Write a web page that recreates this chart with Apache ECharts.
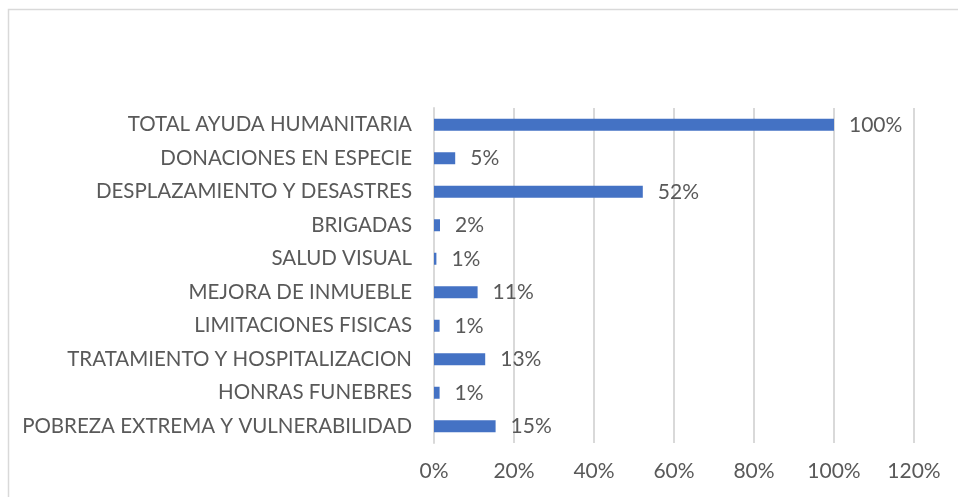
<!DOCTYPE html>
<html>
<head>
<meta charset="utf-8">
<script src="https://cdn.jsdelivr.net/npm/echarts@6/dist/echarts.min.js"></script>
<style>html,body{margin:0;padding:0;background:#fff}#c{width:958px;height:497px}</style>
</head>
<body>
<div id="c"></div>
<script>
const categories = [
  "POBREZA EXTREMA Y VULNERABILIDAD",
  "HONRAS FUNEBRES",
  "TRATAMIENTO Y HOSPITALIZACION",
  "LIMITACIONES FISICAS",
  "MEJORA DE INMUEBLE",
  "SALUD VISUAL",
  "BRIGADAS",
  "DESPLAZAMIENTO Y DESASTRES",
  "DONACIONES EN ESPECIE",
  "TOTAL AYUDA HUMANITARIA"
];
const values = [15.4, 1.4, 12.8, 1.4, 10.9, 0.6, 1.5, 52.2, 5.3, 100];
const xTicks = [0, 20, 40, 60, 80, 100, 120];

const font = 'Lato, "Open Sans", sans-serif';
const chart = echarts.init(document.getElementById('c'), null, {renderer: 'canvas'});
chart.setOption({
  animation: false,
  backgroundColor: '#fff',
  graphic: [{
    type: 'rect',
    shape: {x: 8.5, y: 9.5, width: 1000, height: 600},
    style: {fill: 'none', stroke: '#d9d9d9', lineWidth: 1.5},
    silent: true
  }],
  grid: {left: 434, right: 44, top: 108, bottom: 54, containLabel: false},
  xAxis: {
    type: 'value',
    min: xTicks[0],
    max: xTicks[xTicks.length - 1],
    interval: 20,
    axisLine: {show: false},
    axisTick: {show: false},
    splitLine: {show: true, lineStyle: {color: '#d9d9d9', width: 2}},
    axisLabel: {
      formatter: v => v + '%',
      color: '#595959',
      fontFamily: font,
      fontSize: 21,
      margin: 18
    }
  },
  yAxis: {
    type: 'category',
    data: categories,
    axisLine: {show: true, lineStyle: {color: '#d9d9d9', width: 2}},
    axisTick: {show: false},
    axisLabel: {
      color: '#595959',
      fontFamily: font,
      fontSize: 20.5,
      margin: 22
    }
  },
  series: [{
    type: 'bar',
    data: values,
    barWidth: 12,
    itemStyle: {color: '#4472C4'},
    label: {
      show: true,
      position: 'right',
      distance: 15,
      formatter: p => Math.round(p.value) + '%',
      color: '#595959',
      fontFamily: font,
      fontSize: 21
    }
  }]
});
</script>
</body>
</html>
